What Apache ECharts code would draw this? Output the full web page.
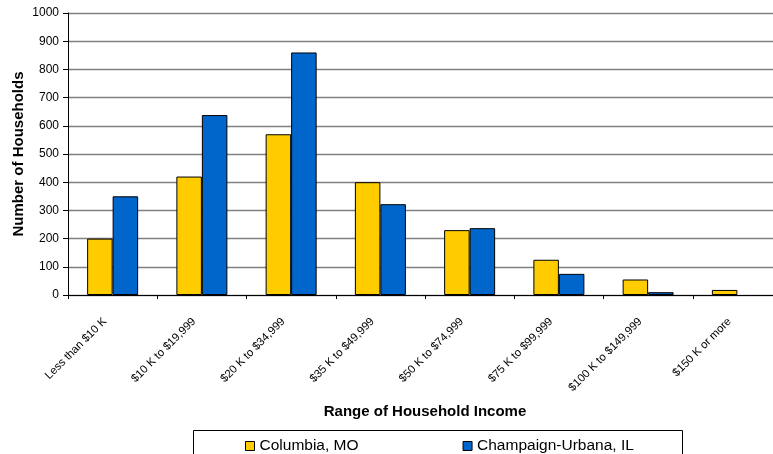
<!DOCTYPE html>
<html>
<head>
<meta charset="utf-8">
<script src="https://cdn.jsdelivr.net/npm/echarts@6/dist/echarts.min.js"></script>
<style>
  html, body { margin: 0; padding: 0; background: #fff; }
  #chart { width: 773px; height: 454px; }
</style>
</head>
<body>
<div id="chart"></div>
<script>
// Household income distribution, two college towns
const categories = [
  'Less than $10 K', '$10 K to $19,999', '$20 K to $34,999', '$35 K to $49,999',
  '$50 K to $74,999', '$75 K to $99,999', '$100 K to $149,999', '$150 K or more'
];
const columbiaMO = [200, 420, 570, 400, 230, 125, 55, 18];
const champaignUrbanaIL = [350, 638, 860, 322, 237, 75, 10, 0];
const yTicks = { min: 0, max: 1000, interval: 100 };

const font = 'Liberation Sans, Arial, sans-serif';
const chart = echarts.init(document.getElementById('chart'), null, { renderer: 'canvas' });

// bars with a zero value get no outline, so nothing is drawn for them
function barData(values) {
  return values.map(v => v === 0
    ? { value: v, itemStyle: { borderWidth: 0 } }
    : v);
}

chart.setOption({
  animation: false,
  backgroundColor: '#ffffff',
  textStyle: { fontFamily: font, color: '#000' },
  grid: { left: 68, top: 13, right: -9, bottom: 159, containLabel: false, outerBoundsMode: 'none' },
  legend: {
    left: 240,
    top: 433,
    itemWidth: 9,
    itemHeight: 9,
    itemGap: 104,
    icon: 'rect',
    textStyle: { fontFamily: font, fontSize: 15.5, color: '#000' },
    data: [
      { name: 'Columbia, MO', itemStyle: { borderColor: '#000', borderWidth: 1 } },
      { name: 'Champaign-Urbana, IL', itemStyle: { borderColor: '#000', borderWidth: 1 } }
    ]
  },
  graphic: [{
    type: 'rect',
    shape: { x: 193.5, y: 430.5, width: 489, height: 40 },
    style: { fill: 'none', stroke: '#000', lineWidth: 1 },
    silent: true
  }],
  xAxis: {
    type: 'category',
    data: categories,
    name: 'Range of Household Income',
    nameLocation: 'middle',
    nameGap: 109,
    nameMoveOverlap: false,
    nameTextStyle: { fontFamily: font, fontSize: 15, fontWeight: 'bold', color: '#000' },
    axisLine: { lineStyle: { color: '#000', width: 1 } },
    axisTick: { show: true, interval: 0, length: 4, lineStyle: { color: '#000' } },
    axisLabel: {
      interval: 0,
      rotate: 45,
      margin: 17,
      padding: [0, 11, 0, 0],
      fontFamily: font,
      fontSize: 11.3,
      color: '#000'
    }
  },
  yAxis: {
    type: 'value',
    min: yTicks.min,
    max: yTicks.max,
    interval: yTicks.interval,
    name: 'Number of Households',
    nameLocation: 'middle',
    nameGap: 42,
    nameMoveOverlap: false,
    nameTextStyle: { fontFamily: font, fontSize: 15, fontWeight: 'bold', color: '#000' },
    axisLine: { show: true, lineStyle: { color: '#000', width: 1 } },
    axisTick: { show: true, length: 5, lineStyle: { color: '#000' } },
    axisLabel: { margin: 9, fontFamily: font, fontSize: 12, color: '#000', formatter: v => String(v) },
    splitLine: { show: true, lineStyle: { color: '#808080', width: 1.3 } }
  },
  series: [
    {
      name: 'Columbia, MO',
      type: 'bar',
      data: barData(columbiaMO),
      barWidth: 25.5,
      barGap: '0%',
      itemStyle: { color: '#FFCC00', borderColor: '#000', borderWidth: 1 }
    },
    {
      name: 'Champaign-Urbana, IL',
      type: 'bar',
      data: barData(champaignUrbanaIL),
      barWidth: 25.5,
      barGap: '0%',
      itemStyle: { color: '#0066CC', borderColor: '#000', borderWidth: 1 }
    }
  ]
});
</script>
</body>
</html>
